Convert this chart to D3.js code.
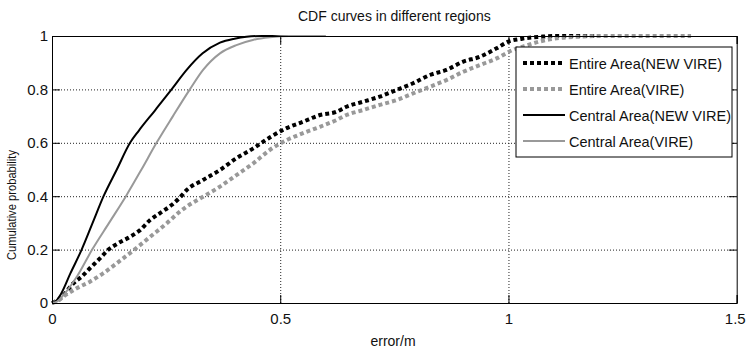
<!DOCTYPE html>
<html>
<head>
<meta charset="utf-8">
<script src="https://cdn.jsdelivr.net/npm/d3@7"></script>
<style>
  body { margin: 0; background: #fff; }
  svg { display: block; font-family: "Liberation Sans", Arial, Helvetica, sans-serif; }
</style>
</head>
<body>
<div id="chart"></div>
<script>
// ticks
const xTicks = [0, 0.5, 1, 1.5]
const yTicks = [0, 0.2, 0.4, 0.6, 0.8, 1]

// series labels, in plot order
const seriesNames = ['Entire Area(NEW VIRE)', 'Entire Area(VIRE)', 'Central Area(NEW VIRE)', 'Central Area(VIRE)']

// [error, cumulative probability]
const entireNew = [
  [0, 0], [0.02, 0.02], [0.047, 0.074], [0.065, 0.099], [0.083, 0.13], [0.105, 0.167], [0.123, 0.199],
  [0.145, 0.224], [0.171, 0.248], [0.193, 0.273], [0.215, 0.311], [0.236, 0.336], [0.262, 0.367],
  [0.28, 0.395], [0.295, 0.423], [0.331, 0.461], [0.368, 0.498], [0.404, 0.542], [0.441, 0.579],
  [0.477, 0.62], [0.514, 0.655], [0.55, 0.679], [0.587, 0.704], [0.623, 0.716], [0.645, 0.735],
  [0.682, 0.754], [0.718, 0.773], [0.755, 0.798], [0.791, 0.823], [0.828, 0.854], [0.864, 0.873],
  [0.901, 0.904], [0.937, 0.922], [0.974, 0.954], [1.0, 0.979], [1.03, 0.99], [1.07, 0.997],
  [1.1, 1.0], [1.2, 1.0]
]
const entireOld = [
  [0, 0], [0.01, 0.005], [0.025, 0.024], [0.054, 0.055], [0.083, 0.08], [0.112, 0.111], [0.142, 0.149],
  [0.182, 0.202], [0.215, 0.248], [0.251, 0.298], [0.28, 0.342], [0.295, 0.361], [0.331, 0.398],
  [0.368, 0.436], [0.404, 0.479], [0.441, 0.523], [0.477, 0.573], [0.514, 0.61], [0.55, 0.636],
  [0.587, 0.66], [0.623, 0.685], [0.645, 0.704], [0.682, 0.723], [0.718, 0.742], [0.755, 0.76],
  [0.791, 0.785], [0.828, 0.81], [0.864, 0.835], [0.901, 0.866], [0.937, 0.891], [0.974, 0.916],
  [1.01, 0.948], [1.04, 0.965], [1.07, 0.98], [1.1, 0.99], [1.15, 0.997], [1.2, 1.0], [1.4, 1.0]
]
const centralNew = [
  [0, 0], [0.01, 0.01], [0.02, 0.035], [0.04, 0.11], [0.065, 0.2], [0.089, 0.3], [0.113, 0.4],
  [0.142, 0.5], [0.171, 0.6], [0.19, 0.645], [0.225, 0.72], [0.262, 0.8], [0.295, 0.873],
  [0.33, 0.935], [0.368, 0.975], [0.4, 0.99], [0.426, 0.997], [0.46, 1.0], [0.55, 1.0]
]
const centralOld = [
  [0, 0], [0.01, 0.004], [0.03, 0.04], [0.055, 0.1], [0.088, 0.2], [0.125, 0.3], [0.162, 0.4],
  [0.196, 0.5], [0.229, 0.6], [0.265, 0.7], [0.302, 0.8], [0.331, 0.873], [0.368, 0.935],
  [0.404, 0.966], [0.44, 0.985], [0.477, 0.995], [0.52, 1.0], [0.6, 1.0]
]

const W = 746, H = 351
const margin = { top: 36, right: 9.3, bottom: 48, left: 52 }
const width = W - margin.left - margin.right
const height = H - margin.top - margin.bottom

const styles = [
  { color: '#000', w: 4, dash: '4,3' },
  { color: '#999', w: 4, dash: '4,3' },
  { color: '#000', w: 2, dash: null },
  { color: '#999', w: 2, dash: null }
]
const allSeries = [entireNew, entireOld, centralNew, centralOld]

const svg = d3.select('#chart').append('svg')
  .attr('width', W)
  .attr('height', H)

const g = svg.append('g')
  .attr('transform', `translate(${margin.left}, ${margin.top})`)

const x = d3.scaleLinear().domain([0, 1.5]).range([0, width])
const y = d3.scaleLinear().domain([0, 1]).range([height, 0])

// dotted grid
g.append('g')
  .attr('transform', `translate(0, ${height})`)
  .call(d3.axisBottom(x).tickValues(xTicks.slice(1, -1)).tickSize(-height).tickFormat(''))
  .call(s => s.select('.domain').remove())
  .selectAll('line')
  .attr('stroke', '#222')
  .attr('stroke-dasharray', '1,2')

g.append('g')
  .call(d3.axisLeft(y).tickValues(yTicks.slice(1, -1)).tickSize(-width).tickFormat(''))
  .call(s => s.select('.domain').remove())
  .selectAll('line')
  .attr('stroke', '#222')
  .attr('stroke-dasharray', '1,2')

// curves
const line = d3.line()
  .x(d => x(d[0]))
  .y(d => y(d[1]))
  .curve(d3.curveMonotoneX)

allSeries.forEach((data, i) => {
  const st = styles[i]
  g.append('path')
    .datum(data)
    .attr('fill', 'none')
    .attr('stroke', st.color)
    .attr('stroke-width', st.w)
    .attr('stroke-dasharray', st.dash)
    .attr('stroke-linecap', 'butt')
    .attr('d', line)
})

// axes with inward ticks, box on all sides
const xAxis = g.append('g')
  .attr('transform', `translate(0, ${height})`)
  .call(d3.axisBottom(x).tickValues(xTicks).tickSize(-8).tickPadding(10).tickFormat(d3.format('')))
const yAxis = g.append('g')
  .call(d3.axisLeft(y).tickValues(yTicks).tickSize(-8).tickPadding(4).tickFormat(d3.format('')))
g.append('g')
  .call(d3.axisTop(x).tickValues(xTicks).tickSize(-8).tickFormat(''))
g.append('g')
  .attr('transform', `translate(${width}, 0)`)
  .call(d3.axisRight(y).tickValues(yTicks).tickSize(-8).tickFormat(''))

g.selectAll('.domain').attr('stroke', '#000')
g.selectAll('.tick line').filter(function() { return !this.getAttribute('stroke-dasharray') })
  .attr('stroke', '#000')
xAxis.attr('font-family', null)
yAxis.attr('font-family', null)
xAxis.selectAll('text').attr('font-size', 15).attr('fill', '#111')
yAxis.selectAll('text').attr('font-size', 15).attr('fill', '#111')
// last x label sits against the window edge
xAxis.selectAll('text').filter(d => d === 1.5)
  .attr('text-anchor', 'end')
  .attr('dx', 8.5)

// legend
const lg = g.append('g')
  .attr('transform', `translate(${516 - margin.left}, ${47 - margin.top})`)
lg.append('rect')
  .attr('width', 216)
  .attr('height', 110)
  .attr('fill', '#fff')
  .attr('stroke', '#000')
  .attr('stroke-width', 1)

seriesNames.forEach((name, i) => {
  const st = styles[i]
  const cy = 16 + i * 26
  lg.append('line')
    .attr('x1', 7)
    .attr('x2', 49)
    .attr('y1', cy)
    .attr('y2', cy)
    .attr('stroke', st.color)
    .attr('stroke-width', st.w === 4 ? 4 : 2)
    .attr('stroke-dasharray', st.dash)
  lg.append('text')
    .attr('x', 53)
    .attr('y', cy + 5.5)
    .attr('font-size', 14.5)
    .attr('fill', '#111')
    .text(name)
})

// labels
svg.append('text')
  .attr('text-anchor', 'middle')
  .attr('x', margin.left + width / 2)
  .attr('y', 20.7)
  .attr('font-size', 14)
  .attr('fill', '#111')
  .text('CDF curves in different regions')

svg.append('text')
  .attr('text-anchor', 'middle')
  .attr('x', 393)
  .attr('y', 346)
  .attr('font-size', 14)
  .attr('fill', '#111')
  .text('error/m')

svg.append('text')
  .attr('text-anchor', 'middle')
  .attr('transform', 'translate(16, 205) rotate(-90)')
  .attr('font-size', 12.5)
  .attr('textLength', 110)
  .attr('lengthAdjust', 'spacingAndGlyphs')
  .attr('fill', '#111')
  .text('Cumulative probability')
</script>
</body>
</html>
